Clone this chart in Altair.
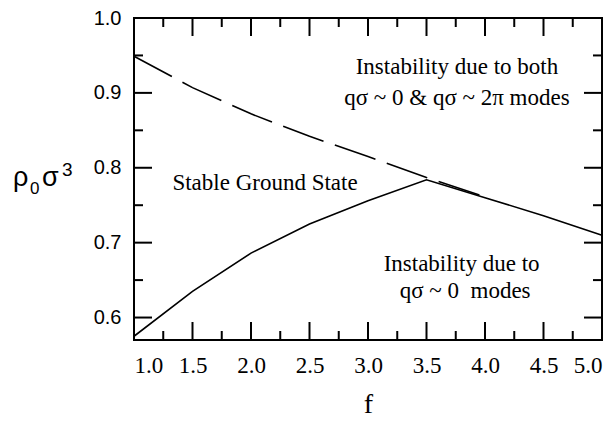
import altair as alt
import pandas as pd

# --- data ---
f_lower = [1.0, 1.5, 2.0, 2.5, 3.0, 3.5, 4.0, 4.5, 5.0]
rho_lower = [0.575, 0.635, 0.686, 0.725, 0.756, 0.784, 0.760, 0.736, 0.710]

f_upper = [1.0, 1.5, 2.0, 2.5, 3.0, 3.5, 4.0]
rho_upper = [0.949, 0.907, 0.872, 0.842, 0.815, 0.787, 0.761]

x_major = [1.0, 1.5, 2.0, 2.5, 3.0, 3.5, 4.0, 4.5, 5.0]
x_minor = [1.25, 1.75, 2.25, 2.75, 3.25, 3.75, 4.25, 4.75]
y_major = [0.6, 0.7, 0.8, 0.9, 1.0]
y_minor = [0.65, 0.75, 0.85, 0.95]

note_text = ["Stable Ground State",
             "Instability due to both", "q\u03c3 ~ 0 & q\u03c3 ~ 2\u03c0 modes",
             "Instability due to", "q\u03c3 ~ 0\u00a0 modes"]
note_f = [2.12, 3.76, 3.76, 3.80, 3.83]
note_rho = [0.780, 0.934, 0.893, 0.672, 0.636]

# y-axis title pieces: rho, subscript 0, sigma, superscript 3
title_parts = ["\u03c1", "0", "\u03c3", "3"]
title_sizes = [27, 17, 27, 19]
title_dx = [-121, -104, -92, -72]
title_base = [168, 176, 168, 158]

W, H = 468, 322
MAJ, MIN = 18, 9

xs = alt.Scale(domain=[1.0, 5.0], nice=False, zero=False)
ys = alt.Scale(domain=[0.57, 1.0], nice=False, zero=False)

lower = pd.DataFrame({"f": f_lower, "rho": rho_lower})
upper = pd.DataFrame({"f": f_upper, "rho": rho_upper})
notes = pd.DataFrame({"t": note_text, "f": note_f, "rho": note_rho})

xax = alt.Axis(values=x_major, format=".1f", ticks=False, domain=False, grid=False,
               labelFont="Liberation Serif", labelFontSize=23, labelColor="black",
               labelPadding=14, title="f", titleFont="Liberation Serif",
               titleFontSize=28, titleFontWeight="normal", titleColor="black",
               titlePadding=13)
yax = alt.Axis(values=y_major, format=".1f", ticks=False, domain=False,
               grid=False, labelFont="Liberation Sans", labelFontSize=20,
               labelColor="black", labelPadding=13, title=None)

solid = alt.Chart(lower).mark_line(color="black", strokeWidth=1.6).encode(
    x=alt.X("f:Q", scale=xs, axis=xax), y=alt.Y("rho:Q", scale=ys, axis=yax))
dashed = alt.Chart(upper).mark_line(color="black", strokeWidth=1.6,
                                    strokeDash=[43, 12]).encode(
    x=alt.X("f:Q", scale=xs), y=alt.Y("rho:Q", scale=ys))

text = alt.Chart(notes).mark_text(font="Liberation Serif", fontSize=23,
                                  color="black", baseline="middle",
                                  align="center").encode(
    x=alt.X("f:Q", scale=xs), y=alt.Y("rho:Q", scale=ys), text="t:N")

title_layers = []
for t, s, dx, by in zip(title_parts, title_sizes, title_dx, title_base):
    title_layers.append(
        alt.Chart(pd.DataFrame({"t": [t]})).mark_text(
            font="Liberation Sans", fontSize=s, color="black",
            align="left", baseline="alphabetic").encode(
            x=alt.value(dx), y=alt.value(by), text="t:N"))


def xticks(vals, length):
    d = pd.DataFrame({"f": vals})
    b = alt.Chart(d).mark_rule(color="black", strokeWidth=2).encode(
        x=alt.X("f:Q", scale=xs), y=alt.value(H), y2=alt.value(H - length))
    t = alt.Chart(d).mark_rule(color="black", strokeWidth=2).encode(
        x=alt.X("f:Q", scale=xs), y=alt.value(0), y2=alt.value(length))
    return [b, t]


def yticks(vals, length):
    d = pd.DataFrame({"rho": vals})
    l = alt.Chart(d).mark_rule(color="black", strokeWidth=2).encode(
        y=alt.Y("rho:Q", scale=ys), x=alt.value(0), x2=alt.value(length))
    r = alt.Chart(d).mark_rule(color="black", strokeWidth=2).encode(
        y=alt.Y("rho:Q", scale=ys), x=alt.value(W), x2=alt.value(W - length))
    return [l, r]


layers = [solid, dashed, text] + title_layers \
    + xticks(x_major, MAJ) + xticks(x_minor, MIN) \
    + yticks(y_major, MAJ) + yticks(y_minor, MIN)

chart = alt.layer(*layers).properties(
    width=W, height=H,
    autosize=alt.AutoSizeParams(type="none"),
    padding={"left": 126, "top": 10, "right": 5, "bottom": 82},
    background="white",
).configure_view(stroke="black", strokeWidth=2)

chart.save("out.html", embed_options={"renderer": "svg", "actions": False})
